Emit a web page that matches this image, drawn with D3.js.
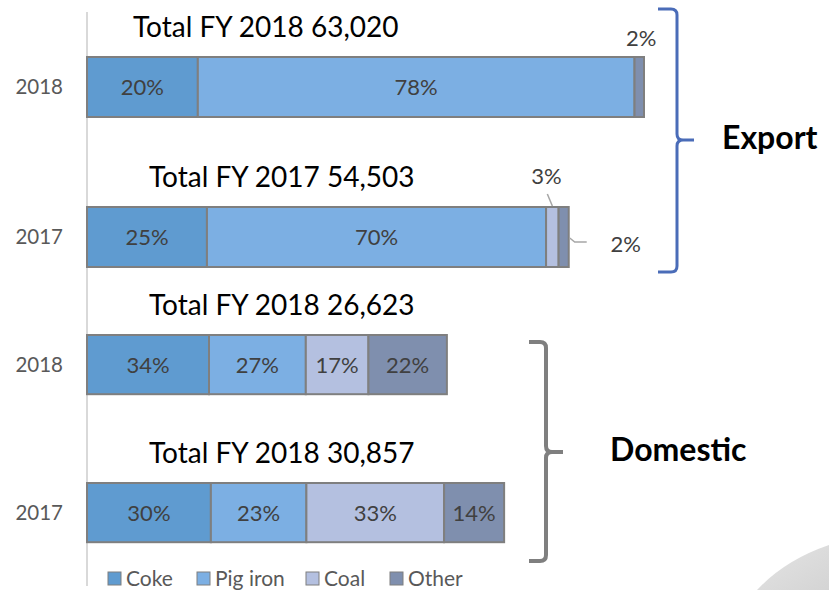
<!DOCTYPE html>
<meta charset="utf-8">
<head>
  <title>Export and domestic shipments</title>
</head>

<style>
body { margin: 0; background: #fff; }
svg { display: block; font-family: Lato, "Open Sans", sans-serif; }
.seg { stroke: #7f7f7f; stroke-width: 2; }
.pct { fill: #404040; font-size: 22px; }
.cat { fill: #595959; font-size: 20.5px; }
.title { fill: #000; font-size: 28px; }
.leader { stroke: #a6a6a6; stroke-width: 1.5; fill: none; }
</style>

<body>
  <svg width="829" height="590"></svg>

  <script src="https://cdn.jsdelivr.net/npm/d3@7"></script>
  <script>
var series = ["Coke", "Pig iron", "Coal", "Other"];
var colors = ["#5f9bd0", "#7cafe3", "#b4c0e0", "#7f8fae"];

// export, top block
var exportYears = ["2018", "2017"];
var exportTotals = [63020, 54503];
var exportTitles = ["Total FY 2018 63,020", "Total FY 2017 54,503"];
var exportCoke = [19.9, 24.9];
var exportPig = [78.4, 70.4];
var exportCoal = [0, 2.6];
var exportOther = [1.7, 2.1];

// domestic, bottom block
var domesticYears = ["2018", "2017"];
var domesticTotals = [26623, 30857];
var domesticTitles = ["Total FY 2018 26,623", "Total FY 2018 30,857"];
var domesticCoke = [33.9, 29.7];
var domesticPig = [26.9, 22.9];
var domesticCoal = [17.4, 33.0];
var domesticOther = [21.8, 14.4];

var svg = d3.select("svg");

function rows(years, totals, coke, pig, coal, other) {
  return years.map(function(y, i) {
    var shares = [coke[i], pig[i], coal[i], other[i]];
    var r = { year: y, total: totals[i] };
    series.forEach(function(s, j) {
      r[s] = totals[i] * shares[j] / 100;
      r[s + "_pct"] = shares[j];
    });
    return r;
  });
}

var exportRows = rows(exportYears, exportTotals, exportCoke, exportPig, exportCoal, exportOther);
var domesticRows = rows(domesticYears, domesticTotals, domesticCoke, domesticPig, domesticCoal, domesticOther);

var xExport = d3.scaleLinear().domain([0, 70000]).range([87, 87 + 70000 * 557 / 63020]);
var xDomestic = d3.scaleLinear().domain([0, 40000]).range([87, 87 + 40000 * 0.013518]);

var yExport = d3.scaleBand().domain(exportYears).range([12, 312]).paddingInner(0.6).paddingOuter(0.3);
var yDomestic = d3.scaleBand().domain(domesticYears).range([290.6, 586.6]).paddingInner(0.6).paddingOuter(0.3);

var stack = d3.stack().keys(series);

// vertical axis line
svg.append("line")
  .attr("x1", 87).attr("x2", 87)
  .attr("y1", 12).attr("y2", 586)
  .attr("stroke", "#d9d9d9").attr("stroke-width", 2);

function drawBlock(data, x, y, titles, titleX, cls) {
  var g = svg.append("g").attr("class", cls);
  var layers = stack(data);

  g.selectAll("g.layer")
    .data(layers)
    .enter().append("g")
    .attr("class", "layer")
    .attr("fill", function(d, i) { return colors[i]; })
    .selectAll("rect")
    .data(function(d) { return d.filter(function(p) { return p[1] > p[0]; }); })
    .enter().append("rect")
    .attr("class", "seg")
    .attr("x", function(d) { return x(d[0]); })
    .attr("y", function(d) { return y(d.data.year); })
    .attr("width", function(d) { return x(d[1]) - x(d[0]); })
    .attr("height", y.bandwidth());

  // inside labels
  layers.forEach(function(layer) {
    layer.forEach(function(p) {
      var pct = p.data[layer.key + "_pct"];
      if (pct < 5) return;
      g.append("text")
        .attr("class", "pct")
        .attr("text-anchor", "middle")
        .attr("x", (x(p[0]) + x(p[1])) / 2)
        .attr("y", y(p.data.year) + y.bandwidth() / 2 + 8)
        .text(Math.round(pct) + "%");
    });
  });

  // category labels
  g.selectAll("text.cat")
    .data(data)
    .enter().append("text")
    .attr("class", "cat")
    .attr("text-anchor", "end")
    .attr("x", 63)
    .attr("y", function(d) { return y(d.year) + y.bandwidth() / 2 + 7; })
    .text(function(d) { return d.year; });

  // totals above bars
  g.selectAll("text.title")
    .data(data)
    .enter().append("text")
    .attr("class", "title")
    .attr("x", function(d, i) { return titleX[i]; })
    .attr("y", function(d) { return y(d.year) - 20; })
    .text(function(d, i) { return titles[i]; });

  return layers;
}

var expLayers = drawBlock(exportRows, xExport, yExport, exportTitles, [133, 149], "export");
drawBlock(domesticRows, xDomestic, yDomestic, domesticTitles, [149, 149], "domestic");

// small export shares, labelled outside the bar
var ge = svg.select("g.export");
var other18 = expLayers[3][0], coal17 = expLayers[2][1], other17 = expLayers[3][1];

ge.append("text").attr("class", "pct").attr("text-anchor", "middle")
  .attr("x", (xExport(other18[0]) + xExport(other18[1])) / 2 + 2)
  .attr("y", yExport("2018") - 11)
  .text(Math.round(exportOther[0]) + "%");

var cx = (xExport(coal17[0]) + xExport(coal17[1])) / 2, top17 = yExport("2017");
ge.append("path").attr("class", "leader")
  .attr("d", d3.line()([[cx, top17 - 1], [cx - 5, top17 - 13]]));
ge.append("text").attr("class", "pct").attr("text-anchor", "middle")
  .attr("x", cx - 6).attr("y", top17 - 23)
  .text(Math.round(exportCoal[1]) + "%");

var ex = xExport(other17[1]), mid17 = top17 + yExport.bandwidth() / 2;
ge.append("path").attr("class", "leader")
  .attr("d", d3.line()([[ex + 1, mid17 + 1], [ex + 6, mid17 + 5], [ex + 18, mid17 + 5]]));
ge.append("text").attr("class", "pct").attr("text-anchor", "middle")
  .attr("x", ex + 57).attr("y", mid17 + 15)
  .text(Math.round(exportOther[1]) + "%");

// braces
function brace(xl, xv, xt, y0, ym, y1) {
  var r = 6;
  return "M" + xl + "," + y0 + " L" + (xv - r) + "," + y0 + " Q" + xv + "," + y0 + " " + xv + "," + (y0 + r) +
    " L" + xv + "," + (ym - r) + " Q" + xv + "," + ym + " " + (xv + r) + "," + ym + " L" + xt + "," + ym +
    " M" + (xv + r) + "," + ym + " Q" + xv + "," + ym + " " + xv + "," + (ym + r) +
    " L" + xv + "," + (y1 - r) + " Q" + xv + "," + y1 + " " + (xv - r) + "," + y1 + " L" + xl + "," + y1;
}

svg.append("path")
  .attr("d", brace(658, 677, 694, 9, 140, 272))
  .attr("fill", "none").attr("stroke", "#4a6cb8").attr("stroke-width", 3);
svg.append("path")
  .attr("d", brace(529, 546, 563, 342, 452, 561))
  .attr("fill", "none").attr("stroke", "#7f7f7f").attr("stroke-width", 4);

svg.append("text").attr("x", 722).attr("y", 149)
  .attr("font-size", 32).attr("font-weight", "bold").text("Export");
svg.append("text").attr("x", 610).attr("y", 461)
  .attr("font-size", 32).attr("font-weight", "bold").text("Domestic");

// legend
var legendX = [108, 197, 306, 390];
var lg = svg.append("g").selectAll("g")
  .data(series)
  .enter().append("g")
  .attr("transform", function(d, i) { return "translate(" + legendX[i] + ",572)"; });
lg.append("rect").attr("width", 13).attr("height", 13)
  .attr("fill", function(d, i) { return colors[i]; })
  .attr("stroke", "#7f7f7f").attr("stroke-width", 1);
lg.append("text").attr("x", 18).attr("y", 14)
  .attr("fill", "#595959").attr("font-size", 21)
  .text(function(d) { return d; });

// background swoosh in the corner
var grad = svg.append("defs").append("linearGradient").attr("id", "sw")
  .attr("x1", 0).attr("y1", 0).attr("x2", 1).attr("y2", 1);
grad.append("stop").attr("offset", 0).attr("stop-color", "#e4e4e4");
grad.append("stop").attr("offset", 1).attr("stop-color", "#d4d4d4");
svg.append("path")
  .attr("d", "M757,590 Q785,560 829,545 L829,590 Z")
  .attr("fill", "url(#sw)");
  </script>
</body>
</html>
